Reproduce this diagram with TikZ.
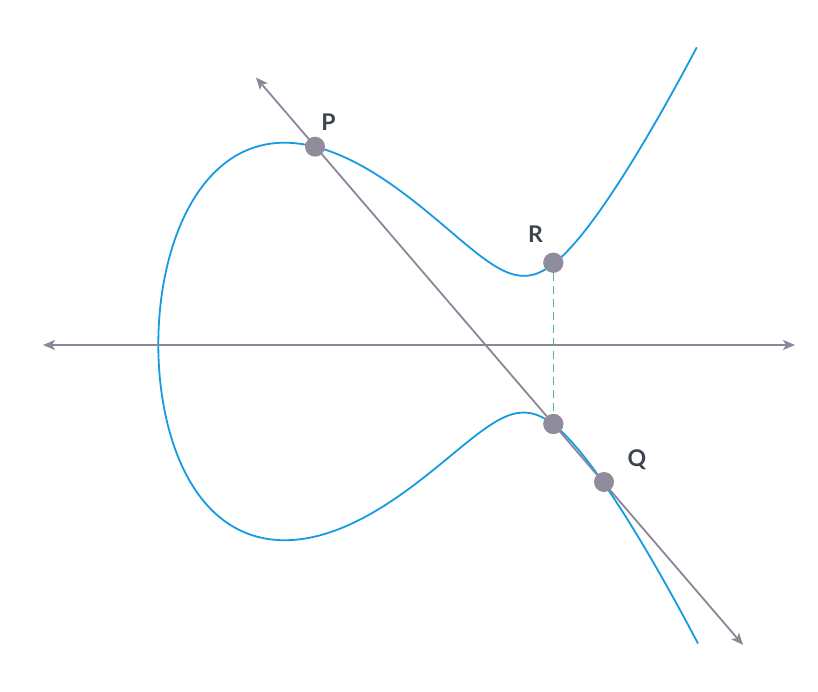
\documentclass[tikz,border=0pt]{standalone}
\usepackage{fontspec}
\setmainfont{Lato}
\usetikzlibrary{arrows.meta}
\definecolor{curveblue}{RGB}{22,155,226}
\definecolor{axisgray}{RGB}{138,136,152}
\definecolor{dotgray}{RGB}{143,141,156}
\definecolor{labeldark}{RGB}{62,67,80}
\definecolor{dashgreen}{RGB}{60,192,140}
\tikzset{
  bothaxis/.style={draw=axisgray, line width=1.8pt, {Stealth[length=12pt,width=10pt,inset=3pt]}-{Stealth[length=12pt,width=10pt,inset=3pt]}},
  dot/.style={circle, fill=dotgray, inner sep=0pt, minimum size=20pt},
  lbl/.style={text=labeldark, font=\fontsize{23}{27}\selectfont\bfseries, inner sep=0pt},
  ecurve/.style={draw=curveblue, line width=1.8pt},
  proj/.style={draw=dashgreen, line width=1pt, dash pattern=on 8pt off 5pt}
}
\begin{document}
\begin{tikzpicture}[x=1pt,y=-1pt]
\useasboundingbox[fill=white] (0,0) rectangle (818,692);
% coordinates
\coordinate (XL) at (43,345);
\coordinate (XR) at (795,345);
\coordinate (LA) at (256,77.5);
\coordinate (LB) at (743,645);
% elliptic curve
\draw[ecurve] plot[domain=-2.3232:2.3232, samples=260, smooth, variable=\t]
  ({158.3+100*\t*\t}, {344.5-31.623*\t*sqrt(5.259*\t*\t*\t*\t-38.803*\t*\t+72.858)*(\t<0 ? 1-0.03*exp(-2*(\t+1.12)*(\t+1.12)) : 1)});
% axis
\draw[bothaxis] (XL) -- (XR);
% secant line
\draw[bothaxis] (LA) -- (LB);
% points
\node[dot] (P) at (315,146.7) {};
\node[dot] (R) at (553.3,262.7) {};
\node[dot] (mR) at (553.3,424) {};
\node[dot] (Q) at (604,482) {};
\draw[proj] (R) -- (mR);
\node[dot] at (R) {};
\node[dot] at (mR) {};
% labels
\node[lbl] (lP) at (328.5,122) {P};
\node[lbl] (lR) at (535.5,234) {R};
\node[lbl] (lQ) at (637,460) {Q};
\end{tikzpicture}
\end{document}
